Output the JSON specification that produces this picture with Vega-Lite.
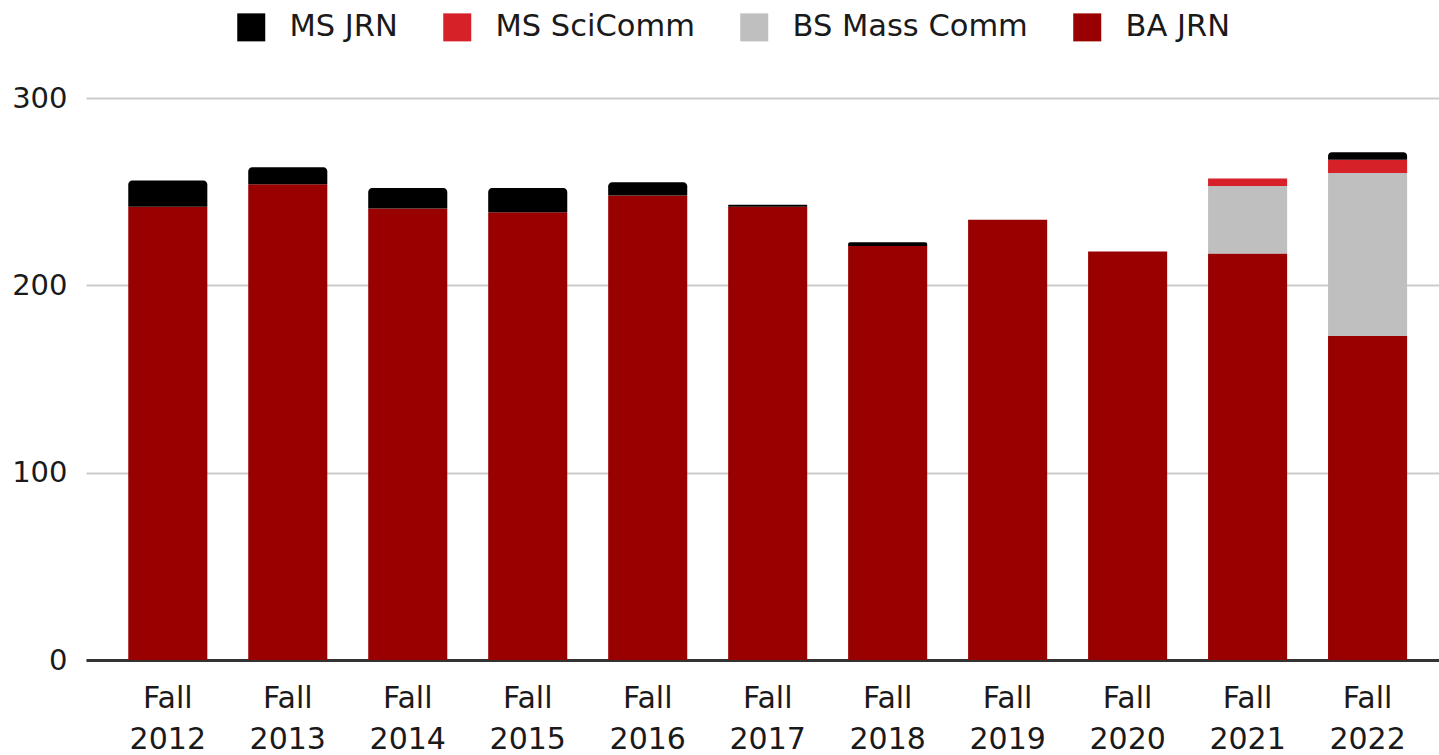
{
  "$schema": "https://vega.github.io/schema/vega-lite/v6.json",
  "width": 1353,
  "height": 562,
  "autosize": {"type": "none"},
  "padding": {"left": 86, "top": 98, "right": 0, "bottom": 95},
  "background": "white",
  "config": {"font": "DejaVu Sans", "view": {"stroke": null}},
  "data": {
    "values": [
      {"term": "Fall 2012", "program": "BA JRN", "value": 242},
      {"term": "Fall 2012", "program": "MS JRN", "value": 14},
      {"term": "Fall 2013", "program": "BA JRN", "value": 254},
      {"term": "Fall 2013", "program": "MS JRN", "value": 9},
      {"term": "Fall 2014", "program": "BA JRN", "value": 241},
      {"term": "Fall 2014", "program": "MS JRN", "value": 11},
      {"term": "Fall 2015", "program": "BA JRN", "value": 239},
      {"term": "Fall 2015", "program": "MS JRN", "value": 13},
      {"term": "Fall 2016", "program": "BA JRN", "value": 248},
      {"term": "Fall 2016", "program": "MS JRN", "value": 7},
      {"term": "Fall 2017", "program": "BA JRN", "value": 242},
      {"term": "Fall 2017", "program": "MS JRN", "value": 1},
      {"term": "Fall 2018", "program": "BA JRN", "value": 221},
      {"term": "Fall 2018", "program": "MS JRN", "value": 2},
      {"term": "Fall 2019", "program": "BA JRN", "value": 235},
      {"term": "Fall 2020", "program": "BA JRN", "value": 218},
      {"term": "Fall 2021", "program": "BA JRN", "value": 217},
      {"term": "Fall 2021", "program": "BS Mass Comm", "value": 36},
      {"term": "Fall 2021", "program": "MS SciComm", "value": 4},
      {"term": "Fall 2022", "program": "BA JRN", "value": 173},
      {"term": "Fall 2022", "program": "BS Mass Comm", "value": 87},
      {"term": "Fall 2022", "program": "MS SciComm", "value": 7},
      {"term": "Fall 2022", "program": "MS JRN", "value": 4}
    ]
  },
  "transform": [
    {"stack": "value", "groupby": ["term"], "as": ["y0", "y1"]}
  ],
  "encoding": {
    "x": {
      "field": "term",
      "type": "nominal",
      "sort": null,
      "scale": {"paddingInner": 0.341, "paddingOuter": 0.309, "align": 0.57},
      "axis": {
        "title": null,
        "labelAngle": 0,
        "labelFontSize": 30,
        "labelColor": "#1a1a1a",
        "labelExpr": "split(datum.label, ' ')",
        "labelLineHeight": 41,
        "labelPadding": 23,
        "ticks": false,
        "domain": true,
        "domainColor": "#333333",
        "domainWidth": 3,
        "grid": false
      }
    },
    "y": {
      "field": "y1",
      "type": "quantitative",
      "scale": {"domain": [0, 300]},
      "axis": {
        "title": null,
        "values": [0, 100, 200, 300],
        "labelFontSize": 29,
        "labelColor": "#1a1a1a",
        "labelPadding": 19,
        "ticks": false,
        "domain": false,
        "grid": true,
        "gridColor": "#cccccc",
        "gridWidth": 2
      }
    },
    "y2": {"field": "y0"},
    "color": {
      "field": "program",
      "type": "nominal",
      "scale": {
        "domain": ["MS JRN", "MS SciComm", "BS Mass Comm", "BA JRN"],
        "range": ["#000000", "#d62128", "#bfbfbf", "#990000"]
      },
      "legend": {
        "title": null,
        "orient": "none",
        "legendX": 150,
        "legendY": -86,
        "direction": "horizontal",
        "symbolType": "square",
        "symbolSize": 784,
        "symbolStrokeWidth": 0,
        "symbolOpacity": 1,
        "labelFontSize": 30.5,
        "labelLimit": 0,
        "labelColor": "#1a1a1a",
        "labelOffset": 23,
        "columnPadding": 44,
        "padding": 0
      }
    }
  },
  "layer": [
    {
      "transform": [{"filter": "datum.program != 'MS JRN'"}],
      "mark": {"type": "bar"}
    },
    {
      "transform": [{"filter": "datum.program == 'MS JRN'"}],
      "mark": {"type": "bar", "cornerRadiusTopLeft": 4, "cornerRadiusTopRight": 4}
    }
  ]
}
